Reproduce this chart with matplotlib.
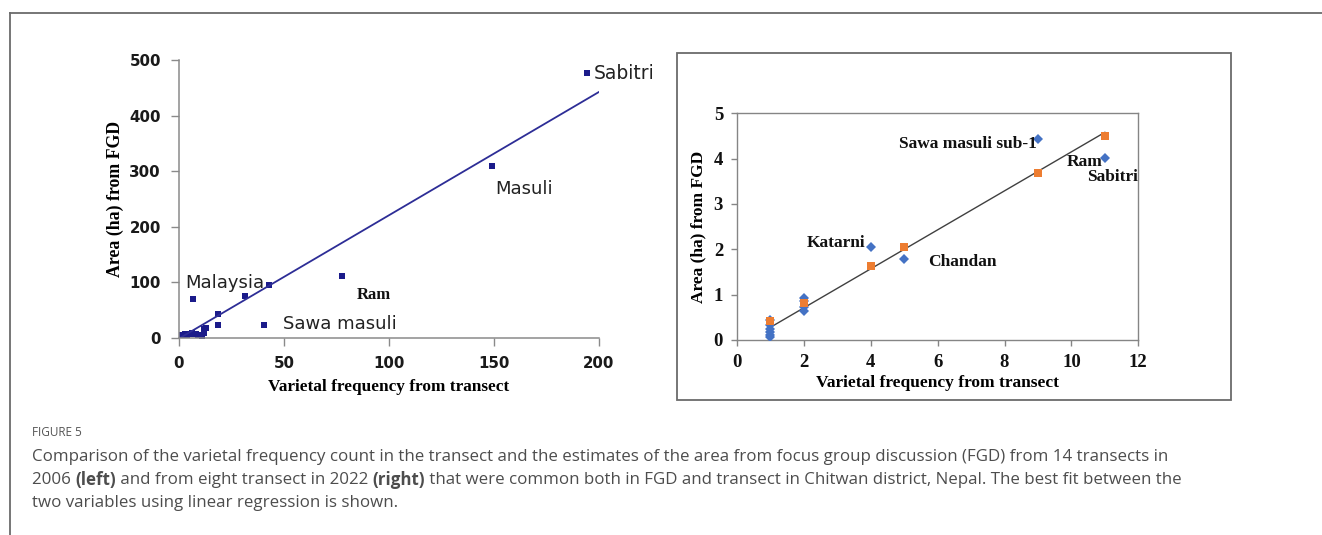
import numpy as np
import matplotlib
matplotlib.use('Agg')
import matplotlib.pyplot as plt
from matplotlib.lines import Line2D
from matplotlib.patches import Rectangle

# --- left panel (2006, 14 transects) ---
left_x = [1, 2, 3, 4, 5, 6, 7, 8, 9, 10, 11, 12, 12, 13, 18.6, 18.6, 31.6, 43, 6.7, 40.6, 77.8, 149.2, 194.3]
left_y = [4, 5, 6, 5, 7, 8, 6, 7, 5, 4, 3, 8, 16, 18, 42.6, 22.8, 74.4, 94, 70.2, 22.8, 111, 310, 476]
left_fit_x = [1, 200]
left_slope, left_icpt = 2.22, -1.5
left_xticks = [0, 50, 100, 150, 200]
left_yticks = [0, 100, 200, 300, 400, 500]

# --- right panel (2022, 8 transects) ---
blue_x = [1, 1, 1, 1, 1, 1, 2, 2, 2, 2, 4, 5, 9, 11]
blue_y = [0.45, 0.33, 0.25, 0.18, 0.12, 0.07, 0.93, 0.85, 0.72, 0.63, 2.06, 1.79, 4.44, 4.02]
orange_x = [1, 2, 4, 5, 9, 11]
orange_y = [0.41, 0.81, 1.63, 2.05, 3.68, 4.51]
right_fit_x = [1, 11]
right_slope, right_icpt = 0.43, -0.15
right_xticks = [0, 2, 4, 6, 8, 10, 12]
right_yticks = [0, 1, 2, 3, 4, 5]

W, H = 1322, 535
fig = plt.figure(figsize=(W / 100, H / 100), dpi=100)


def fx(px):
    return px / W


def fy(py):
    return 1 - py / H


# outer frame of the figure panel
fig.add_artist(Line2D([fx(10), fx(10)], [fy(13), 0], color='#6b6b6b', lw=1.3))
fig.add_artist(Line2D([fx(10), 1], [fy(13), fy(13)], color='#6b6b6b', lw=1.3))

serif = 'Liberation Serif'
sans = 'DejaVu Sans'
navy = '#1b1b8a'

# ---- left axes ----
ax1 = fig.add_axes([fx(179), fy(337.7), fx(599 - 179), (337.7 - 60) / H])
ax1.plot(left_x, left_y, 's', color=navy, ms=4, mew=0)
fx1 = np.array(left_fit_x, dtype=float)
ax1.plot(fx1, left_slope * fx1 + left_icpt, '-', color='#2d2d96', lw=1.3)
ax1.set_xlim(0, 200)
ax1.set_ylim(0, 500)
ax1.set_xticks(left_xticks)
ax1.set_yticks(left_yticks)
for s in ['top', 'right']:
    ax1.spines[s].set_visible(False)
for s in ['left', 'bottom']:
    ax1.spines[s].set_color('#8a8a8a')
    ax1.spines[s].set_linewidth(1.1)
ax1.tick_params(direction='out', length=6, width=1, color='#8a8a8a', pad=7)
for lab in ax1.get_xticklabels() + ax1.get_yticklabels():
    lab.set_fontfamily(sans)
    lab.set_fontweight('bold')
    lab.set_fontsize(10.8)
    lab.set_color('#1a1a1a')
ax1.set_xlabel('Varietal frequency from transect', family=serif, weight='bold', fontsize=12.4, labelpad=6)
ax1.set_ylabel('Area (ha) from FGD', family=serif, weight='bold', fontsize=12.8, labelpad=4)

ax1.text(197.5, 476, 'Sabitri', family=sans, fontsize=13.5, color='#222', va='center', ha='left', clip_on=False)
ax1.text(150.4, 267, 'Masuli', family=sans, fontsize=13, color='#222', va='center', ha='left')
ax1.text(2.9, 98, 'Malaysia', family=sans, fontsize=13, color='#222', va='center', ha='left')
ax1.text(49.7, 24, 'Sawa masuli', family=sans, fontsize=13, color='#222', va='center', ha='left')
ax1.text(93, 77, 'Ram', family=serif, weight='bold', fontsize=12, color='#111', va='center', ha='center')

# ---- right panel box ----
fig.add_artist(Rectangle((fx(677), fy(400)), fx(1231 - 677), (400 - 53) / H,
                         fill=False, edgecolor='#6b6b6b', lw=1.3))

ax2 = fig.add_axes([fx(737), fy(340), fx(1138.3 - 737), (340 - 113.3) / H])
fx2 = np.array(right_fit_x, dtype=float)
ax2.plot(fx2, right_slope * fx2 + right_icpt, '-', color='#404040', lw=1.0, zorder=2)
ax2.plot(blue_x, blue_y, 'D', color='#4472c4', ms=5.5, mew=0, zorder=3)
ax2.plot(orange_x, orange_y, 's', color='#ed7d31', ms=6, mew=0, zorder=4)
ax2.set_xlim(0, 12)
ax2.set_ylim(0, 5)
ax2.set_xticks(right_xticks)
ax2.set_yticks(right_yticks)
for s in ax2.spines.values():
    s.set_color('#858585')
    s.set_linewidth(1.0)
ax2.tick_params(direction='out', length=4, width=1, color='#858585', pad=6)
for lab in ax2.get_xticklabels() + ax2.get_yticklabels():
    lab.set_fontfamily(serif)
    lab.set_fontweight('bold')
    lab.set_fontsize(13.5)
    lab.set_color('#111')
ax2.set_xlabel('Varietal frequency from transect', family=serif, weight='bold', fontsize=12.5, labelpad=3)
ax2.set_ylabel('Area (ha) from FGD', family=serif, weight='bold', fontsize=12.5, labelpad=5)

lab_kw = dict(family=serif, weight='bold', fontsize=12.5, color='#111', va='center')
ax2.text(4.83, 4.32, 'Sawa masuli sub-1', ha='left', **lab_kw)
ax2.text(10.93, 3.92, 'Ram', ha='right', **lab_kw)
ax2.text(10.46, 3.59, 'Sabitri', ha='left', **lab_kw)
ax2.text(3.85, 2.13, 'Katarni', ha='right', **lab_kw)
ax2.text(5.72, 1.71, 'Chandan', ha='left', **lab_kw)

# ---- caption ----
cap_font = 'Open Sans'
cap_col = '#4d4d4d'
cap_size = 12.15
fig.text(fx(32), fy(433), 'FIGURE 5', family=cap_font, fontsize=8.5, color='#555', va='center')

line1 = ('Comparison of the varietal frequency count in the transect and the estimates of the area '
         'from focus group discussion (FGD) from 14 transects in')
fig.text(fx(32), fy(456.7), line1, family=cap_font, fontsize=cap_size, color=cap_col, va='center')

pieces = [('2006 ', 'normal'), ('(left)', 'bold'), (' and from eight transect in 2022 ', 'normal'),
          ('(right)', 'bold'),
          (' that were common both in FGD and transect in Chitwan district, Nepal. The best fit between the',
           'normal')]
renderer = fig.canvas.get_renderer()
xpos = 32
for txt, wt in pieces:
    t = fig.text(fx(xpos), fy(480), txt, family=cap_font, fontsize=cap_size, weight=wt, color=cap_col,
                 va='center')
    bb = t.get_window_extent(renderer=renderer)
    xpos += bb.width
fig.text(fx(32), fy(502.7), 'two variables using linear regression is shown.', family=cap_font,
         fontsize=cap_size, color=cap_col, va='center')

plt.savefig('out.png', dpi=100)
plt.close()
